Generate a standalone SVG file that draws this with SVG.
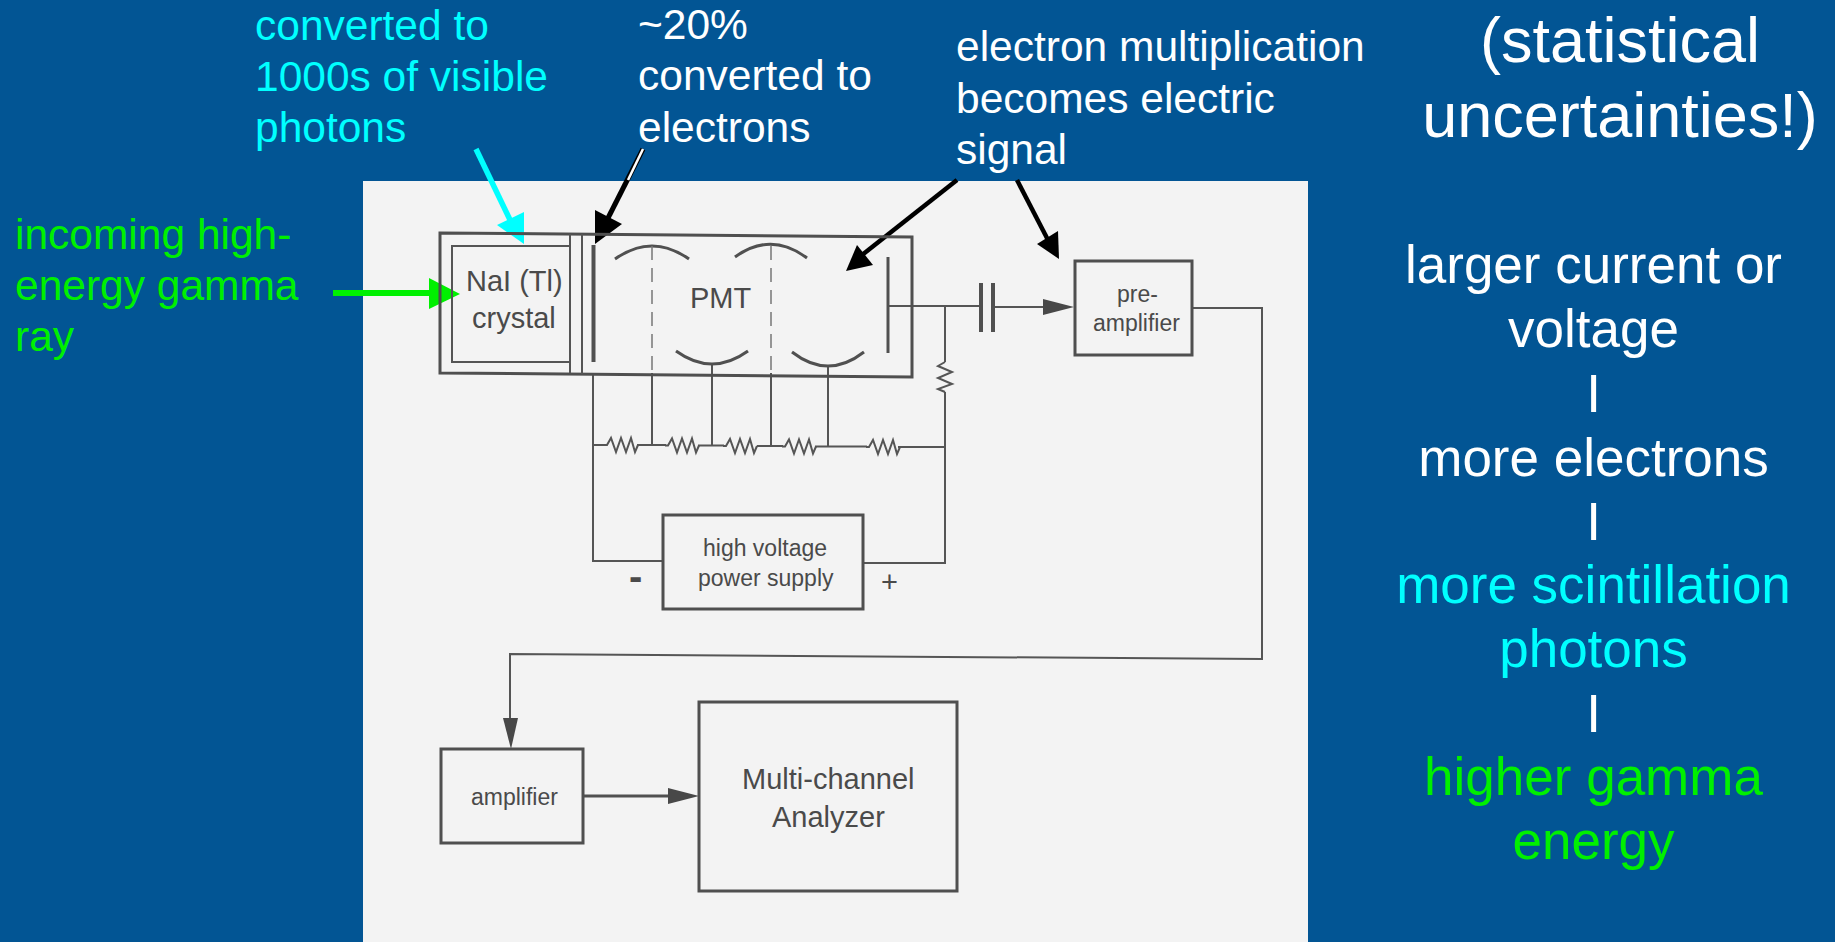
<svg xmlns="http://www.w3.org/2000/svg" width="1835" height="942" viewBox="0 0 1835 942">
<style>
text{font-family:"Liberation Sans",Arial,sans-serif}
.box{fill:none;stroke:#4f4f4f;stroke-width:3}
.thin{fill:none;stroke:#555;stroke-width:2}
.med{fill:none;stroke:#505050;stroke-width:3}
.thick{fill:none;stroke:#505050;stroke-width:4}
.dash{fill:none;stroke:#777;stroke-width:1.5;stroke-dasharray:14 8}
.t{fill:#4a4a4a;font-size:29px}
.s{fill:#4a4a4a;font-size:23px}
.c{font-size:42.5px;fill:#00ffff}
.w{font-size:42.5px;fill:#fff}
.g{font-size:42.5px;fill:#00f000}
.r{font-size:53px;text-anchor:middle}
.big{font-size:63px;fill:#fff;text-anchor:middle}
.hd{fill:#484848}
</style>
<defs>
<path id="zig" d="M0 0H3L7 -7L12 7L17 -7L22 7L27 -7L31 7L34 0" fill="none" stroke="#555" stroke-width="2"/>
</defs>
<rect width="1835" height="942" fill="#025594"/>
<rect id="scan" x="363" y="181" width="945" height="761" fill="#f3f3f3"/>

<g id="connectors">
<path class="thin" d="M593 373V561H663"/>
<path class="thin" d="M593 445H604M637 445H666M698 445.500H724M757 446H783M815 446.500H867M898 447H945"/>
<use href="#zig" x="604" y="445"/><use href="#zig" x="665" y="445.500"/><use href="#zig" x="723" y="446"/><use href="#zig" x="782" y="446.500"/><use href="#zig" x="866" y="447"/>
<path class="thin" d="M652 373V445M712 364V446M771 373V446M828 367V447"/>
<path class="thin" d="M888 306H981M993 307H1045"/>
<path class="thin" d="M945 307V362M945 392V563H863"/>
<path d="M945 362L938 366L952 372L938 378L952 384L938 389L945 392" fill="none" stroke="#555" stroke-width="2"/>
<path class="thin" d="M1192 308H1262V659L510 654V720"/>
<path class="hd" d="M1043 299L1074 307L1043 315Z"/>
<path class="hd" d="M503 718H518L511 749Z"/>
<path class="med" d="M583 796H670"/>
<path class="hd" d="M668 788L699 796L668 804Z"/>
<path d="M333 293H432" stroke="#00f000" stroke-width="6" fill="none"/>
<path d="M429 278L460 294L429 309Z" fill="#00f000"/>
<path d="M476 149L512 224" stroke="#00ffff" stroke-width="5.500" fill="none"/>
<path d="M497 225L524 212V244Z" fill="#00ffff"/>
<path d="M643 149L606 222" stroke="#000" stroke-width="5" fill="none"/>
<path d="M643 149L628 180" stroke="#fff" stroke-width="2.500" fill="none"/>
<path d="M595 210L622 224L595 244Z" fill="#000"/>
<path d="M957 180L862 255" stroke="#000" stroke-width="4.500" fill="none"/>
<path d="M857 245L873 265L846 271Z" fill="#000"/>
<path d="M1017 180L1048 240" stroke="#000" stroke-width="4.500" fill="none"/>
<path d="M1037 244L1058 231L1059 259Z" fill="#000"/>
</g>

<g id="crystal">
<path class="box" d="M440 233L912 237V377L440 373Z"/>
<path class="thin" d="M570 234V373M582 234V374M570 246H452V362H570"/>
<text class="t" x="466" y="291">NaI (Tl)</text>
<text class="t" x="472" y="328">crystal</text>
</g>

<g id="pmt">
<path class="thick" d="M593.500 245V362"/>
<path class="med" d="M615 259Q652 233 689 259M735 257Q771 231 807 258M676 351Q712 377 748 351M792 352Q828 380 864 352"/>
<path class="dash" d="M652 246V373M771 246V373"/>
<path class="med" d="M888 257V353"/>
<path class="thick" d="M981 283V332M993 283V332"/>
<text class="t" x="690" y="308">PMT</text>
</g>

<g id="preamp">
<rect class="box" x="1075" y="261" width="117" height="94"/>
<text class="s" x="1117" y="302">pre-</text>
<text class="s" x="1093" y="331">amplifier</text>
</g>

<g id="hv">
<rect class="box" x="663" y="515" width="200" height="94"/>
<text class="s" x="703" y="556">high voltage</text>
<text class="s" x="698" y="586">power supply</text>
<text x="629" y="590" style="font-size:40px;font-weight:bold;fill:#4a4a4a">-</text>
<text x="881" y="592" style="font-size:29px;fill:#4a4a4a">+</text>
</g>

<g id="amplifier">
<rect class="box" x="441" y="749" width="142" height="94"/>
<text class="s" x="471" y="805">amplifier</text>
</g>

<g id="mca">
<rect class="box" x="699" y="702" width="258" height="189"/>
<text class="t" x="742" y="789">Multi-channel</text>
<text class="t" x="772" y="827">Analyzer</text>
</g>

<g id="label-scint">
<text class="c" x="255" y="40">converted to</text>
<text class="c" x="255" y="91">1000s of visible</text>
<text class="c" x="255" y="142">photons</text>
</g>
<g id="label-gamma">
<text class="g" x="15" y="249">incoming high-</text>
<text class="g" x="15" y="300">energy gamma</text>
<text class="g" x="15" y="351">ray</text>
</g>
<g id="label-pe">
<text class="w" x="638" y="39">~20%</text>
<text class="w" x="638" y="90">converted to</text>
<text class="w" x="638" y="142">electrons</text>
</g>
<g id="label-mult">
<text class="w" x="956" y="61">electron multiplication</text>
<text class="w" x="956" y="113">becomes electric</text>
<text class="w" x="956" y="164">signal</text>
</g>
<g id="label-uncert">
<text class="big" x="1620" y="62">(statistical</text>
<text class="big" x="1620" y="137">uncertainties!)</text>
</g>
<g id="label-chain">
<text class="r" x="1593.500" y="283" fill="#fff">larger current or</text>
<text class="r" x="1593.500" y="347" fill="#fff">voltage</text>
<text class="r" x="1593.500" y="412" fill="#fff">I</text>
<text class="r" x="1593.500" y="476" fill="#fff">more electrons</text>
<text class="r" x="1593.500" y="540" fill="#fff">I</text>
<text class="r" x="1593.500" y="603" fill="#00ffff">more scintillation</text>
<text class="r" x="1593.500" y="667" fill="#00ffff">photons</text>
<text class="r" x="1593.500" y="732" fill="#fff">I</text>
<text class="r" x="1593.500" y="795" fill="#00f000">higher gamma</text>
<text class="r" x="1593.500" y="859" fill="#00f000">energy</text>
</g>
</svg>
